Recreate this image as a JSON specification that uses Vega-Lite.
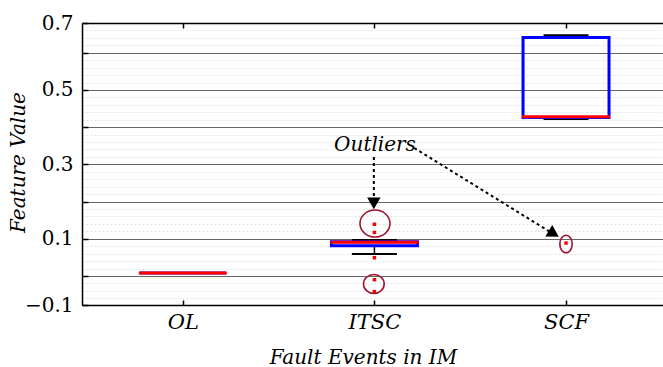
{
  "$schema": "https://vega.github.io/schema/vega-lite/v6.json",
  "autosize": {"type": "none"},
  "padding": {"left": 82, "top": 23, "right": 0, "bottom": 62},
  "width": 581,
  "height": 282,
  "config": {
    "view": {"stroke": null},
    "font": "DejaVu Serif",
    "text": {"font": "DejaVu Serif"},
    "axis": {"labelFont": "DejaVu Serif", "titleFont": "DejaVu Serif", "labelColor": "black", "titleColor": "black", "labelOverlap": false, "labelFlush": false}
  },
  "datasets": {
    "boxes": [
      {"cat": 1, "lower": 0.008, "q1": 0.008, "median": 0.008, "q3": 0.008, "upper": 0.008},
      {"cat": 2, "lower": 0.059, "q1": 0.081, "median": 0.0905, "q3": 0.092, "upper": 0.097},
      {"cat": 3, "lower": 0.422, "q1": 0.426, "median": 0.428, "q3": 0.641, "upper": 0.647}
    ],
    "outliers": [
      {"cat": 2, "v": 0.139},
      {"cat": 2, "v": 0.117},
      {"cat": 2, "v": 0.049},
      {"cat": 2, "v": -0.010},
      {"cat": 2, "v": -0.042},
      {"cat": 3, "v": 0.0885}
    ],
    "circles": [
      {"id": "a", "x": 2.003, "y": 0.141},
      {"id": "b", "x": 1.997, "y": -0.0215},
      {"id": "c", "x": 3.0, "y": 0.0859}
    ],
    "arrows": [
      {"id": "down", "x": 1.997, "y": 0.320, "x2": 1.997, "y2": 0.207, "hx": 1.997, "hy": 0.1953},
      {"id": "diag", "x": 2.208, "y": 0.344, "x2": 2.915, "y2": 0.119, "hx": 2.936, "hy": 0.1135}
    ],
    "notes": [
      {"x": 2.003, "y": 0.352, "text": "Outliers"}
    ]
  },
  "layer": [
    {
      "data": {"name": "boxes"},
      "mark": {"type": "rule", "color": "black", "strokeWidth": 1.5},
      "encoding": {
        "x": {"field": "cat", "type": "quantitative", "scale": {"domain": [0.5, 3.48], "nice": false, "zero": false},
          "axis": {"orient": "bottom", "values": [1, 2, 3], "labelExpr": "['OL','ITSC','SCF'][datum.value-1]", "labelFontSize": 21, "labelFontStyle": "italic", "labelPadding": 11, "tickSize": -5, "tickColor": "black", "tickWidth": 1.5, "domainColor": "black", "domainWidth": 1.5, "grid": false,
            "title": "Fault Events in IM", "titleFontSize": 20, "titleFontStyle": "italic", "titleFontWeight": "normal", "titleX": 281, "titleY": 58, "titleBaseline": "alphabetic", "titleAnchor": "middle"}},
        "y": {"field": "lower", "type": "quantitative", "scale": {"domain": [-0.078, 0.68], "nice": false, "zero": false},
          "axis": {"orient": "left", "values": [-0.078, 0, 0.1, 0.2, 0.3, 0.4, 0.5, 0.6, 0.68], "labelExpr": "indexof([0,0.2,0.4,0.6], datum.value) >= 0 ? '' : format(datum.value, '.1f')", "labelFontSize": 20, "labelPadding": 15, "tickSize": -6, "tickColor": "black", "tickWidth": 1.5, "domainColor": "black", "domainWidth": 1.5,
            "grid": true, "gridColor": "#666666", "gridWidth": 1.2,
            "title": "Feature Value", "titleFontSize": 20, "titleFontStyle": "italic", "titleFontWeight": "normal", "titleAngle": -90, "titleX": -64, "titleY": 139, "titleBaseline": "middle", "titleAlign": "center"}},
        "y2": {"field": "q1"}
      }
    },
    {
      "data": {"name": "boxes"},
      "mark": {"type": "rule", "color": "black", "strokeWidth": 1.5},
      "encoding": {
        "x": {"field": "cat", "type": "quantitative", "scale": {"domain": [0.5, 3.48], "nice": false, "zero": false},
          "axis": {"orient": "top", "values": [1, 2, 3], "labels": false, "tickSize": -5, "tickColor": "black", "tickWidth": 1.5, "domainColor": "black", "domainWidth": 1.5, "grid": false, "title": null}},
        "y": {"field": "q3", "type": "quantitative", "scale": {"domain": [-0.078, 0.68], "nice": false, "zero": false},
          "axis": {"orient": "left", "values": [-0.06,-0.04,-0.02,0.02,0.04,0.06,0.08,0.12,0.14,0.16,0.18,0.22,0.24,0.26,0.28,0.32,0.34,0.36,0.38,0.42,0.44,0.46,0.48,0.52,0.54,0.56,0.58,0.62,0.64,0.66], "labels": false, "ticks": false, "domain": false, "grid": true, "gridColor": "#e4e4e4", "gridDash": [2, 2], "gridWidth": 1, "title": null}},
        "y2": {"field": "upper"}
      }
    },
    {
      "data": {"name": "boxes"},
      "mark": {"type": "tick", "orient": "horizontal", "color": "black", "size": 45, "thickness": 2, "opacity": 1},
      "encoding": {
        "x": {"field": "cat", "type": "quantitative", "scale": {"domain": [0.5, 3.48], "nice": false, "zero": false}, "axis": null},
        "y": {"field": "lower", "type": "quantitative", "scale": {"domain": [-0.078, 0.68], "nice": false, "zero": false}, "axis": null}
      }
    },
    {
      "data": {"name": "boxes"},
      "mark": {"type": "tick", "orient": "horizontal", "color": "black", "size": 45, "thickness": 2, "opacity": 1},
      "encoding": {
        "x": {"field": "cat", "type": "quantitative", "scale": {"domain": [0.5, 3.48], "nice": false, "zero": false}, "axis": null},
        "y": {"field": "upper", "type": "quantitative", "scale": {"domain": [-0.078, 0.68], "nice": false, "zero": false}, "axis": null}
      }
    },
    {
      "data": {"name": "boxes"},
      "mark": {"type": "bar", "orient": "vertical", "width": 86, "fill": null, "fillOpacity": 0, "stroke": "#0000ff", "strokeWidth": 3},
      "encoding": {
        "x": {"field": "cat", "type": "quantitative", "scale": {"domain": [0.5, 3.48], "nice": false, "zero": false}, "axis": null},
        "y": {"field": "q1", "type": "quantitative", "scale": {"domain": [-0.078, 0.68], "nice": false, "zero": false}, "axis": null},
        "y2": {"field": "q3"}
      }
    },
    {
      "data": {"name": "boxes"},
      "mark": {"type": "tick", "orient": "horizontal", "color": "#ff0000", "size": 88, "thickness": 3, "opacity": 1},
      "encoding": {
        "x": {"field": "cat", "type": "quantitative", "scale": {"domain": [0.5, 3.48], "nice": false, "zero": false}, "axis": null},
        "y": {"field": "median", "type": "quantitative", "scale": {"domain": [-0.078, 0.68], "nice": false, "zero": false}, "axis": null}
      }
    },
    {
      "data": {"name": "outliers"},
      "mark": {"type": "point", "shape": "square", "filled": true, "color": "#ff0000", "size": 12, "opacity": 1},
      "encoding": {
        "x": {"field": "cat", "type": "quantitative", "scale": {"domain": [0.5, 3.48], "nice": false, "zero": false}, "axis": null},
        "y": {"field": "v", "type": "quantitative", "scale": {"domain": [-0.078, 0.68], "nice": false, "zero": false}, "axis": null}
      }
    },
    {
      "data": {"name": "circles"},
      "transform": [{"filter": "datum.id === 'a'"}],
      "mark": {"type": "point", "shape": "M-1,0A1,0.9 0 1,0 1,0A1,0.9 0 1,0 -1,0Z", "filled": false, "stroke": "#A2142F", "strokeWidth": 1.6, "size": 900, "opacity": 1},
      "encoding": {
        "x": {"field": "x", "type": "quantitative", "scale": {"domain": [0.5, 3.48], "nice": false, "zero": false}, "axis": null},
        "y": {"field": "y", "type": "quantitative", "scale": {"domain": [-0.078, 0.68], "nice": false, "zero": false}, "axis": null}
      }
    },
    {
      "data": {"name": "circles"},
      "transform": [{"filter": "datum.id === 'b'"}],
      "mark": {"type": "point", "shape": "M-1,0A1,0.92 0 1,0 1,0A1,0.92 0 1,0 -1,0Z", "filled": false, "stroke": "#A2142F", "strokeWidth": 1.6, "size": 428, "opacity": 1},
      "encoding": {
        "x": {"field": "x", "type": "quantitative", "scale": {"domain": [0.5, 3.48], "nice": false, "zero": false}, "axis": null},
        "y": {"field": "y", "type": "quantitative", "scale": {"domain": [-0.078, 0.68], "nice": false, "zero": false}, "axis": null}
      }
    },
    {
      "data": {"name": "circles"},
      "transform": [{"filter": "datum.id === 'c'"}],
      "mark": {"type": "point", "shape": "M-0.7,0A0.7,1 0 1,0 0.7,0A0.7,1 0 1,0 -0.7,0Z", "filled": false, "stroke": "#A2142F", "strokeWidth": 1.6, "size": 313, "opacity": 1},
      "encoding": {
        "x": {"field": "x", "type": "quantitative", "scale": {"domain": [0.5, 3.48], "nice": false, "zero": false}, "axis": null},
        "y": {"field": "y", "type": "quantitative", "scale": {"domain": [-0.078, 0.68], "nice": false, "zero": false}, "axis": null}
      }
    },
    {
      "data": {"name": "arrows"},
      "mark": {"type": "rule", "color": "black", "strokeWidth": 2, "strokeDash": [3, 3]},
      "encoding": {
        "x": {"field": "x", "type": "quantitative", "scale": {"domain": [0.5, 3.48], "nice": false, "zero": false}, "axis": null},
        "y": {"field": "y", "type": "quantitative", "scale": {"domain": [-0.078, 0.68], "nice": false, "zero": false}, "axis": null},
        "x2": {"field": "x2"},
        "y2": {"field": "y2"}
      }
    },
    {
      "data": {"name": "arrows"},
      "transform": [{"filter": "datum.id === 'down'"}],
      "mark": {"type": "point", "shape": "triangle-down", "filled": true, "color": "black", "size": 180, "opacity": 1},
      "encoding": {
        "x": {"field": "hx", "type": "quantitative", "scale": {"domain": [0.5, 3.48], "nice": false, "zero": false}, "axis": null},
        "y": {"field": "hy", "type": "quantitative", "scale": {"domain": [-0.078, 0.68], "nice": false, "zero": false}, "axis": null}
      }
    },
    {
      "data": {"name": "arrows"},
      "transform": [{"filter": "datum.id === 'diag'"}],
      "mark": {"type": "point", "shape": "triangle-right", "angle": 31, "filled": true, "color": "black", "size": 180, "opacity": 1},
      "encoding": {
        "x": {"field": "hx", "type": "quantitative", "scale": {"domain": [0.5, 3.48], "nice": false, "zero": false}, "axis": null},
        "y": {"field": "hy", "type": "quantitative", "scale": {"domain": [-0.078, 0.68], "nice": false, "zero": false}, "axis": null}
      }
    },
    {
      "data": {"name": "notes"},
      "mark": {"type": "text", "font": "DejaVu Serif", "fontStyle": "italic", "fontSize": 20, "color": "black", "align": "center", "baseline": "middle"},
      "encoding": {
        "x": {"field": "x", "type": "quantitative", "scale": {"domain": [0.5, 3.48], "nice": false, "zero": false}, "axis": null},
        "y": {"field": "y", "type": "quantitative", "scale": {"domain": [-0.078, 0.68], "nice": false, "zero": false}, "axis": null},
        "text": {"field": "text"}
      }
    }
  ],
  "resolve": {"axis": {"x": "independent", "y": "independent"}}
}
